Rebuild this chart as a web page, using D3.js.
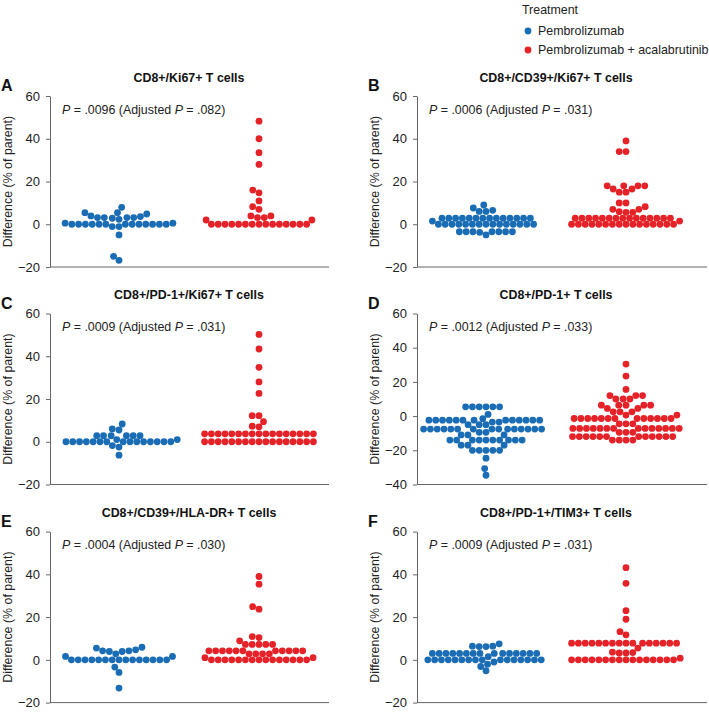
<!DOCTYPE html>
<html><head><meta charset="utf-8">
<script src="https://cdn.jsdelivr.net/npm/d3@7"></script>
<style>body{margin:0;background:#fff}svg{display:block;font-family:"Liberation Sans",Arial,sans-serif}</style>
</head><body><svg id="chart" width="709" height="712"></svg>
<script>
// ---------- data ----------
const groups = ["Pembrolizumab", "Pembrolizumab + acalabrutinib"];
const groupColors = ["#1a6db5", "#e42228"];
const panelLetters = ["A", "B", "C", "D", "E", "F"];
const panelTitles = ["CD8+/Ki67+ T cells", "CD8+/CD39+/Ki67+ T cells", "CD8+/PD-1+/Ki67+ T cells",
                     "CD8+/PD-1+ T cells", "CD8+/CD39+/HLA-DR+ T cells", "CD8+/PD-1+/TIM3+ T cells"];
const pValues = [".0096", ".0006", ".0009", ".0012", ".0004", ".0009"];
const adjustedP = [".082", ".031", ".031", ".033", ".030", ".031"];
const yMins = [-20, -20, -20, -40, -20, -20];
const yMax = 60;
const yTicksStd = [-20, 0, 20, 40, 60];
const yTicksD = [-40, -20, 0, 20, 40, 60];

const pembroA = [-16.9, -15, -5, -1.1, -1.1, 0, 0, 0, 0, 0, 0, 0, 0, 0, 0, 0, 0, 0, 0.5, 0.5, 2.3, 2.8, 3.1, 3.1, 3.1, 3.1, 3.6, 3.9, 4.8, 5.4, 5.4, 7.9];
const comboA = [0, 0, 0, 0, 0, 0, 0, 0, 0, 0, 0, 0, 0, 0, 0, 2, 2, 3.1, 3.1, 3.9, 3.9, 7, 8.2, 10.9, 14.7, 16, 28, 33.5, 40, 48.2];

const pembroB = [-5, -3.8, -3.5, -3.5, -3.5, -3.5, -3.5, -3.5, -3.5, 0, 0, 0, 0, 0, 0, 0, 0, 0, 0, 0, 0, 0, 0, 0, 1.5, 2.8, 2.8, 2.8, 2.8, 2.8, 2.8, 2.8, 2.8, 2.8, 2.8, 2.8, 2.8, 2.8, 2.8, 6, 6, 6.5, 7.6, 9];
const comboB = [0, 0, 0, 0, 0, 0, 0, 0, 0, 0, 0, 0, 0, 0, 0, 0, 1.5, 2.8, 2.8, 2.8, 2.8, 2.8, 2.8, 2.8, 2.8, 2.8, 2.8, 2.8, 2.8, 2.8, 2.8, 2.8, 5.6, 5.6, 5.9, 7, 7, 8.2, 10, 10, 15, 15, 16.5, 16.5, 18, 18, 18, 18, 34, 34, 39];

const pembroC = [-6.3, -2.5, -1.8, 0, 0, 0, 0, 0, 0, 0, 0, 0, 0, 0, 0, 0, 0, 0, 1, 1, 2.8, 2.8, 2.8, 2.8, 2.8, 2.8, 5.5, 6, 8.3];
const comboC = [0, 0, 0, 0, 0, 0, 0, 0, 0, 0, 0, 0, 0, 0, 0, 0, 0, 3.7, 3.7, 3.7, 3.7, 3.7, 3.7, 3.7, 3.7, 3.7, 3.7, 3.7, 3.7, 3.7, 3.7, 3.7, 3.7, 3.7, 7, 7.3, 9.4, 12.2, 12.2, 22.6, 28, 34.8, 43.4, 50.2];

const pembroD = [-34.6, -30.7, -24.6, -20, -20, -20, -20, -20, -17, -17, -17, -14, -14, -14, -14, -14, -14, -14, -14, -14, -14, -11, -11, -11, -9.5, -9.5, -7.6, -7.6, -7.6, -7.6, -7.6, -7.6, -7.6, -7.6, -7.6, -7.6, -7.6, -7.6, -7.6, -7.6, -7.6, -5, -5, -5, -3.5, -3.5, -2.4, -2.4, -2.4, -2.4, -2.4, -2.4, -2.4, -2.4, -2.4, -2.4, -2.4, -2.4, -2.4, -1.5, 1, 5.4, 5.4, 5.4, 5.4, 5.4, 5.4];
const comboD = [-14, -14, -14, -14, -12, -12, -12, -12, -12, -12, -12, -12, -12, -12, -12, -12, -9.5, -9.5, -9.5, -7.2, -7.2, -7.2, -7.2, -7.2, -7.2, -7.2, -7.2, -7.2, -7.2, -7.2, -7.2, -7.2, -7.2, -4.5, -4.5, -4.5, -1.4, -1.4, -1.4, -1.4, -1.4, -1.4, -1.4, -1.4, -1.4, -1.4, -1.4, -1.4, -1.4, 0.6, 0.6, 2.5, 2.5, 2.5, 4.5, 4.5, 6.4, 6.4, 6.4, 6.4, 6.4, 10, 10, 10, 12, 12, 12, 15.6, 23.4, 30.4];

const pembroE = [-13.2, -5.9, -3.4, 0, 0, 0, 0, 0, 0, 0, 0, 0, 0, 0, 0, 0, 0, 0, 1.6, 1.6, 2.8, 3.9, 3.9, 4.2, 4.2, 4.7, 5.5, 5.9];
const comboE = [0, 0, 0, 0, 0, 0, 0, 0, 0, 0, 0, 0, 0, 0, 0, 1, 1, 2.8, 2.8, 2.8, 2.8, 4.2, 4.2, 4.2, 4.2, 4.2, 4.2, 4.2, 4.2, 4.2, 4.2, 4.2, 7.2, 7.2, 7.2, 7.2, 7.2, 8.9, 10.4, 10.9, 23.7, 24.9, 35.4, 39];

const pembroF = [-5.1, -3.1, -2, -1, 0, 0, 0, 0, 0, 0, 0, 0, 0, 0, 0, 0, 0, 0, 0, 0, 1.5, 3, 3, 3, 3, 3, 3, 3, 3, 3, 3, 3, 3, 3, 3, 3, 6.2, 6.2, 6.4, 6.4, 7.5];
const comboF = [0, 0, 0, 0, 0, 0, 0, 0, 0, 0, 0, 0, 0, 0, 0, 0, 0.8, 3.2, 3.2, 3.4, 3.6, 5.5, 7.8, 7.8, 7.8, 7.8, 7.8, 7.8, 7.8, 7.8, 7.8, 7.8, 7.8, 7.8, 7.8, 7.8, 7.8, 7.8, 11.7, 13.2, 19, 23, 35.8, 43.1];

const panelSeries = [[pembroA, comboA], [pembroB, comboB], [pembroC, comboC],
                     [pembroD, comboD], [pembroE, comboE], [pembroF, comboF]];

// ---------- layout ----------
const svg = d3.select("#chart");
const colX0 = [50, 417], colX1 = [329, 707];
const rowTop = [96, 313.5, 531.6], plotH = 171;
const R = 3.4, D = 6.8;
const FONT = 12.4;
const AXIS = "#666";

function swarm(values, y, cx) {
  const pts = values.map((v, i) => ({ v, i, y: y(v) }));
  const order = pts.slice().sort((a, b) => a.v - b.v || a.i - b.i);
  const placed = [];
  for (const p of order) {
    const near = placed.filter(q => Math.abs(q.y - p.y) < D);
    const cands = [0];
    for (const q of near) {
      const dx = Math.sqrt(D * D - (q.y - p.y) ** 2);
      cands.push(q.dx + dx, q.dx - dx);
    }
    const ok = cands.filter(c => near.every(q => (q.dx - c) ** 2 + (q.y - p.y) ** 2 >= D * D - 1e-6));
    ok.sort((a, b) => Math.abs(a) - Math.abs(b) || a - b);
    p.dx = ok[0];
    placed.push(p);
  }
  return pts.map(p => ({ v: p.v, x: cx + p.dx, y: p.y }));
}

panelSeries.forEach((series, i) => {
  const col = i % 2, row = Math.floor(i / 2);
  const x0 = colX0[col], x1 = colX1[col], top = rowTop[row], bottom = top + plotH;
  const y = d3.scaleLinear().domain([yMins[i], yMax]).range([bottom, top]);
  const x = d3.scalePoint().domain(groups).range([x0 + 69, x0 + 209]);
  const g = svg.append("g");

  const ax = g.append("g").attr("transform", `translate(${x0},0)`)
    .call(d3.axisLeft(y).tickValues(yMins[i] === -40 ? yTicksD : yTicksStd).tickSize(4).tickSizeOuter(0).tickPadding(6));
  ax.select(".domain").attr("stroke", AXIS);
  ax.selectAll(".tick line").attr("stroke", AXIS);
  ax.selectAll(".tick text").attr("font-size", 13).attr("fill", "#222").attr("font-family", "Liberation Sans, Arial, sans-serif");
  g.append("line").attr("x1", x0).attr("x2", x1).attr("y1", bottom).attr("y2", bottom)
    .attr("stroke", AXIS);

  g.append("text").attr("transform", `translate(${x0 - 38},${(top + bottom) / 2}) rotate(-90)`)
    .attr("text-anchor", "middle").attr("font-size", FONT).attr("fill", "#222")
    .text("Difference (% of parent)");

  const midX = (x(groups[0]) + x(groups[1])) / 2;
  g.append("text").attr("x", midX).attr("y", top - 14.5).attr("text-anchor", "middle")
    .attr("font-size", FONT).attr("font-weight", "bold").attr("fill", "#111").text(panelTitles[i]);
  g.append("text").attr("x", col === 0 ? 1 : 368).attr("y", top - 5)
    .attr("font-size", 16).attr("font-weight", "bold").attr("fill", "#111").text(panelLetters[i]);

  const pt = g.append("text").attr("x", x0 + 12).attr("y", top + 17.5)
    .attr("font-size", FONT).attr("fill", "#222");
  pt.append("tspan").attr("font-style", "italic").text("P");
  pt.append("tspan").text(` = ${pValues[i]} (Adjusted `);
  pt.append("tspan").attr("font-style", "italic").text("P");
  pt.append("tspan").text(` = ${adjustedP[i]})`);

  series.forEach((vals, k) => {
    const pts = swarm(vals, y, x(groups[k]));
    g.append("g").selectAll("circle").data(pts).join("circle")
      .attr("cx", d => d.x).attr("cy", d => d.y).attr("r", R)
      .attr("fill", groupColors[k]);
  });
});

// legend
const lg = svg.append("g");
lg.append("text").attr("x", 522).attr("y", 14).attr("font-size", FONT).attr("fill", "#222").text("Treatment");
groups.forEach((gname, k) => {
  const cy = 31 + k * 19;
  lg.append("circle").attr("cx", 528).attr("cy", cy).attr("r", 3.4).attr("fill", groupColors[k]);
  lg.append("text").attr("x", 538).attr("y", cy + 4.3).attr("font-size", FONT).attr("fill", "#222").text(gname);
});
</script></body></html>
